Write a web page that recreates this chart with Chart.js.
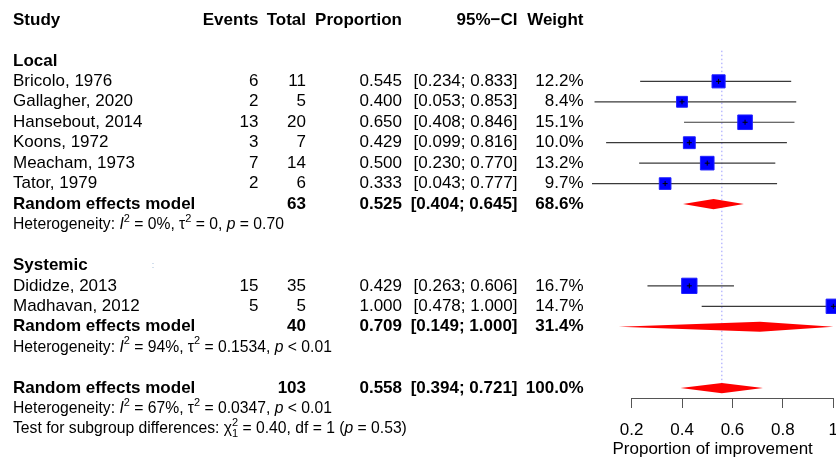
<!DOCTYPE html>
<html>
<head>
<meta charset="utf-8">
<script src="https://cdn.jsdelivr.net/npm/chart.js@4.4.0/dist/chart.umd.min.js"></script>
<style>
  html, body { margin: 0; padding: 0; background: #fff; }
</style>
</head>
<body>
<canvas id="forest-plot" width="836" height="458"></canvas>
<script>
// --data
var groupNames = ['Local', 'Systemic'];
var studies = ['Bricolo, 1976', 'Gallagher, 2020', 'Hansebout, 2014', 'Koons, 1972', 'Meacham, 1973', 'Tator, 1979', 'Dididze, 2013', 'Madhavan, 2012'];
var studyGroup = [0, 0, 0, 0, 0, 0, 1, 1];
var events = [6, 2, 13, 3, 7, 2, 15, 5];
var totals = [11, 5, 20, 7, 14, 6, 35, 5];
var props = [0.545, 0.400, 0.650, 0.429, 0.500, 0.333, 0.429, 1.000];
var lower = [0.234, 0.053, 0.408, 0.099, 0.230, 0.043, 0.263, 0.478];
var upper = [0.833, 0.853, 0.846, 0.816, 0.770, 0.777, 0.606, 1.000];
var weights = [12.2, 8.4, 15.1, 10.0, 13.2, 9.7, 16.7, 14.7];

var groupTotals = [63, 40];
var groupEst = [0.525, 0.709];
var groupLower = [0.404, 0.149];
var groupUpper = [0.645, 1.000];
var groupWeights = [68.6, 31.4];
var groupHet = [
  [['Heterogeneity: '], ['I', 'i'], ['2', 'sup'], [' = 0%, '], ['\u03c4'], ['2', 'sup'], [' = 0, '], ['p', 'i'], [' = 0.70']],
  [['Heterogeneity: '], ['I', 'i'], ['2', 'sup'], [' = 94%, '], ['\u03c4'], ['2', 'sup'], [' = 0.1534, '], ['p', 'i'], [' < 0.01']]
];

var overallTotal = 103;
var overallEst = 0.558;
var overallLower = 0.394;
var overallUpper = 0.721;
var overallWeight = 100.0;
var overallHet = [['Heterogeneity: '], ['I', 'i'], ['2', 'sup'], [' = 67%, '], ['\u03c4'], ['2', 'sup'], [' = 0.0347, '], ['p', 'i'], [' < 0.01']];
var subgroupTest = [['Test for subgroup differences: '], ['\u03c7', ''], ['2', 'supn'], ['1', 'sub'], [' = 0.40, df = 1 ('], ['p', 'i'], [' = 0.53)']];

var headers = ['Study', 'Events', 'Total', 'Proportion', '95%\u2212CI', 'Weight'];
var xTicks = [0.2, 0.4, 0.6, 0.8, 1.0];
var xTitle = 'Proportion of improvement';

(function() {
  var FONT = '"Liberation Sans", Arial, sans-serif';
  var FS = 17, FS_HET = 15.7;
  var COL = {study: 13, events: 258.5, total: 306, prop: 402, ci: 517.5, weight: 583.5};

  // --row layout (row index = y value)
  var studyRow = [], groupRow = [], remRow = [], hetRow = [];
  var r = 2;
  groupNames.forEach(function(g, gi) {
    groupRow[gi] = r++;
    studies.forEach(function(s, i) { if (studyGroup[i] === gi) studyRow[i] = r++; });
    remRow[gi] = r++;
    hetRow[gi] = r++;
    r++;
  });
  var overallRow = r, overallHetRow = r + 1, testRow = r + 2;

  function fmt3(v) { return v.toFixed(3); }
  function ci(lo, hi) { return '[' + fmt3(lo) + '; ' + fmt3(hi) + ']'; }
  function pct(w) { return w.toFixed(1) + '%'; }

  function diamond(est, lo, hi, row) {
    return [{x: lo, y: row}, {x: est, y: row - 0.25}, {x: hi, y: row}, {x: est, y: row + 0.25}, {x: lo, y: row}];
  }

  var datasets = [];
  // crosses at the point estimates
  datasets.push({
    data: props.map(function(p, i) { return {x: p, y: studyRow[i]}; }),
    pointStyle: 'cross', pointRadius: 2.5, borderColor: '#000', borderWidth: 1,
    showLine: false, clip: false, order: 1
  });
  // weighted squares
  datasets.push({
    data: props.map(function(p, i) { return {x: p, y: studyRow[i]}; }),
    pointStyle: 'rect',
    pointRadius: weights.map(function(w) { return 2.65 * Math.sqrt(w); }),
    backgroundColor: '#0000ff', borderColor: '#2020ff', borderWidth: 1,
    showLine: false, clip: false, order: 2
  });
  // confidence intervals
  studies.forEach(function(s, i) {
    datasets.push({
      data: [{x: lower[i], y: studyRow[i]}, {x: upper[i], y: studyRow[i]}],
      showLine: true, pointRadius: 0, borderColor: '#3a3a3a', borderWidth: 1.2,
      clip: false, order: 3
    });
  });
  // pooled diamonds
  groupNames.forEach(function(g, gi) {
    datasets.push({
      data: diamond(groupEst[gi], groupLower[gi], groupUpper[gi], remRow[gi]),
      showLine: true, fill: 'shape', pointRadius: 0, borderWidth: 0,
      borderColor: '#ff0000', backgroundColor: '#ff0000', clip: false, order: 4
    });
  });
  datasets.push({
    data: diamond(overallEst, overallLower, overallUpper, overallRow),
    showLine: true, fill: 'shape', pointRadius: 0, borderWidth: 0,
    borderColor: '#ff0000', backgroundColor: '#ff0000', clip: false, order: 4
  });
  // overall estimate reference line
  datasets.push({
    data: [{x: overallEst, y: studyRow[0] - 1.5}, {x: overallEst, y: overallRow + 0.25}],
    showLine: true, pointRadius: 0, borderColor: '#9a9aff', borderWidth: 1,
    borderDash: [1.5, 2.5], clip: false, order: 5
  });

  function drawParts(ctx, x, y, parts, size) {
    parts.forEach(function(p) {
      var t = p[0], st = p[1] || '';
      var fs = size, dy = 0, style = '';
      if (st === 'i') style = 'italic ';
      if (st === 'sup' || st === 'supn') { fs = size * 0.7; dy = -size * 0.38; }
      if (st === 'sub') { fs = size * 0.7; dy = size * 0.32; }
      ctx.font = style + fs + 'px ' + FONT;
      ctx.fillText(t, x, y + dy);
      if (st !== 'supn') x += ctx.measureText(t).width;
    });
  }

  var tablePlugin = {
    id: 'forestTable',
    afterDraw: function(chart) {
      var ctx = chart.ctx, ys = chart.scales.y, xs = chart.scales.x;
      function Y(row) { return ys.getPixelForValue(row); }
      function txt(t, x, row, align, bold) {
        ctx.font = (bold ? 'bold ' : '') + FS + 'px ' + FONT;
        ctx.textAlign = align;
        ctx.fillText(t, x, Y(row));
      }
      ctx.save();
      ctx.fillStyle = '#000';
      ctx.textBaseline = 'middle';

      // header
      txt(headers[0], COL.study, 0, 'left', true);
      txt(headers[1], COL.events, 0, 'right', true);
      txt(headers[2], COL.total, 0, 'right', true);
      txt(headers[3], COL.prop, 0, 'right', true);
      txt(headers[4], COL.ci, 0, 'right', true);
      txt(headers[5], COL.weight, 0, 'right', true);

      groupNames.forEach(function(g, gi) {
        txt(g, COL.study, groupRow[gi], 'left', true);
      });
      studies.forEach(function(s, i) {
        var row = studyRow[i];
        txt(s, COL.study, row, 'left');
        txt(String(events[i]), COL.events, row, 'right');
        txt(String(totals[i]), COL.total, row, 'right');
        txt(fmt3(props[i]), COL.prop, row, 'right');
        txt(ci(lower[i], upper[i]), COL.ci, row, 'right');
        txt(pct(weights[i]), COL.weight, row, 'right');
      });
      groupNames.forEach(function(g, gi) {
        var row = remRow[gi];
        txt('Random effects model', COL.study, row, 'left', true);
        txt(String(groupTotals[gi]), COL.total, row, 'right', true);
        txt(fmt3(groupEst[gi]), COL.prop, row, 'right', true);
        txt(ci(groupLower[gi], groupUpper[gi]), COL.ci, row, 'right', true);
        txt(pct(groupWeights[gi]), COL.weight, row, 'right', true);
        ctx.textAlign = 'left';
        drawParts(ctx, COL.study, Y(hetRow[gi]), groupHet[gi], FS_HET);
      });

      txt('Random effects model', COL.study, overallRow, 'left', true);
      txt(String(overallTotal), COL.total, overallRow, 'right', true);
      txt(fmt3(overallEst), COL.prop, overallRow, 'right', true);
      txt(ci(overallLower, overallUpper), COL.ci, overallRow, 'right', true);
      txt(pct(overallWeight), COL.weight, overallRow, 'right', true);
      ctx.textAlign = 'left';
      drawParts(ctx, COL.study, Y(overallHetRow), overallHet, FS_HET);
      drawParts(ctx, COL.study, Y(testRow), subgroupTest, FS_HET);

      // faint marker next to "Systemic"
      ctx.fillStyle = '#9fb8d8';
      ctx.font = '9px ' + FONT;
      ctx.textAlign = 'center';
      ctx.fillText(':', 153, Y(groupRow[1]));

      // axis line spanning the ticks
      var yb = Math.round(chart.chartArea.bottom) + 0.5;
      ctx.strokeStyle = '#555';
      ctx.lineWidth = 1;
      ctx.beginPath();
      ctx.moveTo(xs.getPixelForValue(xTicks[0]), yb);
      ctx.lineTo(xs.getPixelForValue(xTicks[xTicks.length - 1]), yb);
      ctx.stroke();
      ctx.restore();
    }
  };

  new Chart(document.getElementById('forest-plot'), {
    type: 'scatter',
    data: {datasets: datasets},
    options: {
      responsive: false,
      animation: false,
      events: [],
      layout: {autoPadding: false, padding: {left: 592, right: 2.7, top: 0, bottom: 0}},
      plugins: {legend: {display: false}, tooltip: {enabled: false}},
      scales: {
        x: {
          type: 'linear', min: 0.043, max: 1.0,
          afterBuildTicks: function(s) { s.ticks = xTicks.map(function(v) { return {value: v}; }); },
          afterFit: function(s) { s.paddingLeft = 0; s.paddingRight = 0; s.height = 60; },
          grid: {drawOnChartArea: false, drawTicks: true, tickLength: 10, color: '#555', lineWidth: 1},
          border: {display: false},
          ticks: {
            color: '#000', padding: 12, maxRotation: 0, autoSkip: false,
            font: {family: FONT, size: FS},
            callback: function(v) { return v === 1 ? '1' : v.toFixed(1); }
          },
          title: {display: true, text: xTitle, color: '#000', font: {family: FONT, size: FS, lineHeight: 1.0}, padding: {top: 0, bottom: 0}}
        },
        y: {type: 'linear', display: false, reverse: true, min: -0.978, max: 18.484}
      }
    },
    plugins: [tablePlugin]
  });
}());
</script>
</body>
</html>
